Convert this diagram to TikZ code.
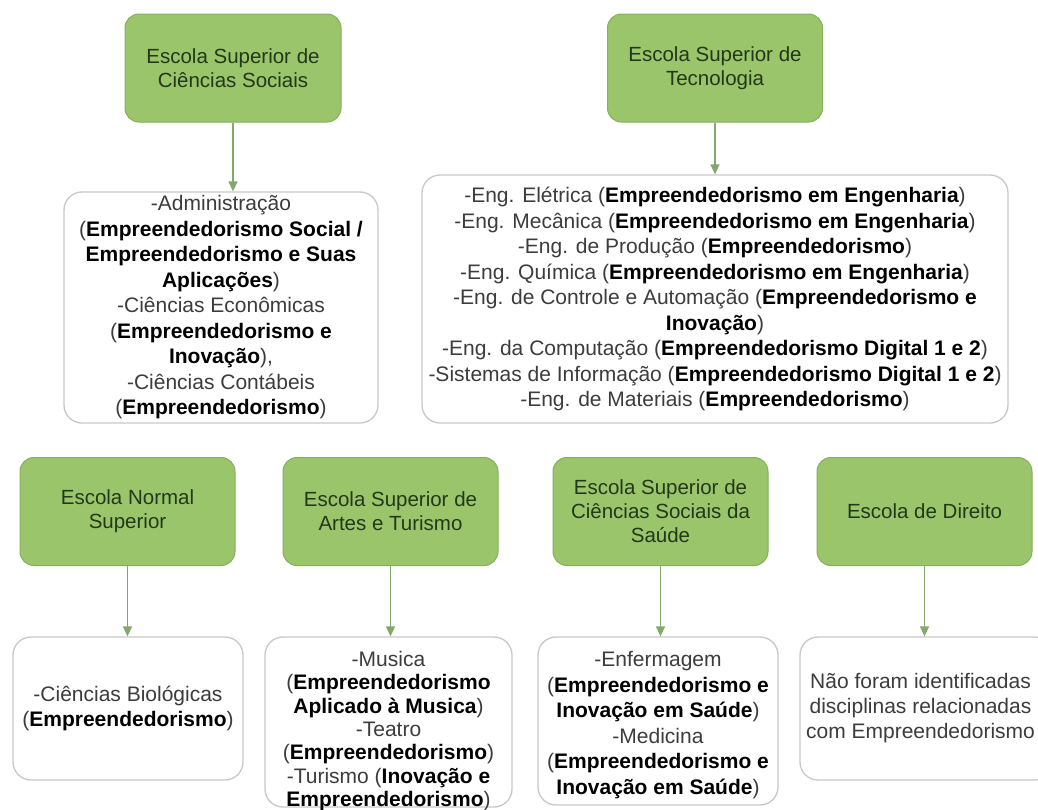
\documentclass[tikz,border=0pt]{standalone}
\usepackage{fontspec}
\setmainfont{Liberation Sans}
\usetikzlibrary{arrows.meta}
\definecolor{gfill}{HTML}{9BC56A}
\definecolor{gdraw}{HTML}{86AE5C}
\definecolor{gtext}{HTML}{22381A}
\definecolor{wdraw}{HTML}{C8C8C8}
\definecolor{arrc}{HTML}{82A86C}
\definecolor{regc}{HTML}{3C3C3C}
\newcommand{\bt}[1]{\textbf{\color{black}#1}}
\begin{document}
\begin{tikzpicture}[x=1pt,y=-1pt,
  gbox/.style={draw=gdraw, fill=gfill, line width=1pt, rounded corners=14pt,
    minimum width=215pt, minimum height=108pt, inner sep=0pt, align=center,
    text=gtext, font=\fontsize{20.5}{24}\selectfont},
  wbox/.style={draw=wdraw, fill=white, line width=1.3pt, rounded corners=18pt,
    inner sep=0pt, align=center, text=regc, font=\fontsize{21}{25.5}\selectfont},
  wtext/.style={inner sep=0pt, align=center, text=regc, font=\fontsize{21}{23.4}\selectfont},
  arr/.style={draw=arrc, line width=1.4pt, -{Triangle[length=10pt,width=9pt]}}]
\clip (0,0) rectangle (1038,809);
\fill[white] (0,0) rectangle (1038,809);

% top row
\node[gbox, minimum width=216pt] (g1) at (233,68) {Escola Superior de\\Ciências Sociais};
\node[wbox, minimum width=314pt, minimum height=231pt] (w1) at (221,307.5)
 {-Administração\\(\bt{Empreendedorismo Social /}\\\bt{Empreendedorismo e Suas}\\\bt{Aplicações})\\-Ciências Econômicas\\(\bt{Empreendedorismo e}\\\bt{Inovação}),\\-Ciências Contábeis\\(\bt{Empreendedorismo})};

\node[gbox] (g2) at (715,68) {Escola Superior de\\Tecnologia};
\node[wbox, minimum width=586pt, minimum height=248pt] (w2) at (715,299)
 {-Eng. Elétrica (\bt{Empreendedorismo em Engenharia})\\
  -Eng. Mecânica (\bt{Empreendedorismo em Engenharia})\\
  -Eng. de Produção (\bt{Empreendedorismo})\\
  -Eng. Química (\bt{Empreendedorismo em Engenharia})\\
  -Eng. de Controle e Automação (\bt{Empreendedorismo e}\\
  \bt{Inovação})\\
  -Eng. da Computação (\bt{Empreendedorismo Digital 1 e 2})\\
  -Sistemas de Informação (\bt{Empreendedorismo Digital 1 e 2})\\
  -Eng. de Materiais (\bt{Empreendedorismo})};

% bottom row
\node[gbox] (g3) at (127.5,511.5) {Escola Normal\\Superior};
\node[wbox, minimum width=230pt, minimum height=143pt] (w3) at (128,708.5)
 {-Ciências Biológicas\\(\bt{Empreendedorismo})};

\node[gbox] (g4) at (390.5,511.5) {Escola Superior de\\Artes e Turismo};
\node[wbox, minimum width=247pt, minimum height=170pt] (w4) at (388.5,722) {};
\node[wtext] (t4) at (388.5,731)
 {-Musica\\(\bt{Empreendedorismo}\\\bt{Aplicado à Musica})\\-Teatro\\(\bt{Empreendedorismo})\\-Turismo (\bt{Inovação e}\\\bt{Empreendedorismo})};

\node[gbox] (g5) at (660.5,511.5) {Escola Superior de\\Ciências Sociais da\\Saúde};
\node[wbox, minimum width=240pt, minimum height=168pt] (w5) at (658,721) {};
\node[wtext, font=\fontsize{21}{25.6}\selectfont] (t5) at (658,725)
 {-Enfermagem\\(\bt{Empreendedorismo e}\\\bt{Inovação em Saúde})\\-Medicina\\(\bt{Empreendedorismo e}\\\bt{Inovação em Saúde})};

\node[gbox] (g6) at (924.5,511.5) {Escola de Direito};
\node[wbox, minimum width=252pt, minimum height=143pt] (w6) at (926,708.5) {};
\node[wtext, font=\fontsize{21}{25}\selectfont] (t6) at (920.5,708.5)
 {Não foram identificadas\\disciplinas relacionadas\\com Empreendedorismo};

% connectors
\draw[arr] (g1.south) -- (g1.south |- w1.north);
\draw[arr] (g2.south) -- (g2.south |- w2.north);
\draw[arr] (g3.south) -- (g3.south |- w3.north);
\draw[arr] (g4.south) -- (g4.south |- w4.north);
\draw[arr] (g5.south) -- (g5.south |- w5.north);
\draw[arr] (g6.south) -- (g6.south |- w6.north);
\end{tikzpicture}
\end{document}
